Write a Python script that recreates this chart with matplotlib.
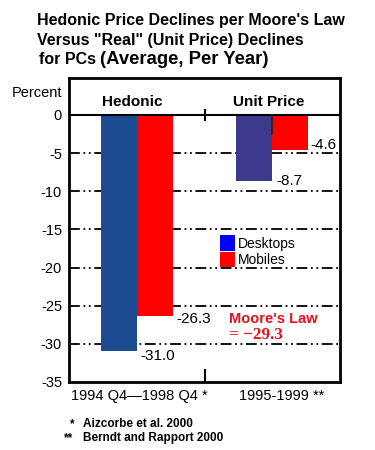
import numpy as np
import matplotlib
matplotlib.use("Agg")
import matplotlib.pyplot as plt

plt.rcParams['font.family'] = ['Liberation Sans', 'DejaVu Sans']

# data
groups = ["Hedonic", "Unit Price"]
periods = ["1994 Q4\u20141998 Q4 *", "1995-1999 **"]
desktops = [-31.0, -8.7]
mobiles = [-26.3, -4.6]
desktop_colors = ["#1c4b92", "#3b3a8c"]
mobile_color = "#ff0000"
yticks = [0, -5, -10, -15, -20, -25, -30, -35]

fig = plt.figure(figsize=(3.75, 4.5), dpi=100)
W, H = 375, 450
ax = fig.add_axes([69 / W, 1 - 382 / H, 271 / W, 304 / H])

x = np.arange(len(groups))
bw = 0.265
ax.bar(x - bw / 2, desktops, bw, color=desktop_colors, zorder=3)
ax.bar(x + bw / 2, mobiles, bw, color=mobile_color, zorder=3)

ax.set_xlim(-0.5, 1.5)
ax.set_ylim(-35, 4.85)
ax.set_yticks(yticks)
ax.set_yticklabels([str(v) for v in yticks], fontsize=10.5)
ax.tick_params(axis="y", length=0, pad=5)
ax.set_xticks([])

# grid lines
for v in yticks[1:-1]:
    ax.axhline(v, color="black", lw=1.3, ls=(0, (6, 2, 1, 2, 1, 2)), zorder=1)
ax.axhline(0, color="black", lw=1.5, zorder=4)

for s in ax.spines.values():
    s.set_linewidth(2)

# divider ticks
ax.plot([0.5, 0.5], [0.7, -0.7], color="black", lw=1.5, zorder=4)
ax.plot([0.5, 0.5], [-35, -33.4], color="black", lw=1.5, zorder=4)
ax.plot([1.0, 1.0], [0, -2.5], color="#222222", lw=1.2, zorder=4)

# group headers
ax.text(-0.035, 1.75, groups[0], ha="center", va="center", fontsize=11, fontweight="bold")
ax.text(0.975, 1.75, groups[1], ha="center", va="center", fontsize=11, fontweight="bold")

# value labels
ax.text(1 + bw + 0.02, -3.9, "-4.6", ha="left", va="center", fontsize=11)
ax.text(1 + 0.03, -8.7, "-8.7", ha="left", va="center", fontsize=11)
ax.text(bw + 0.03, -26.7, "-26.3", ha="left", va="center", fontsize=11)
ax.text(0.03, -31.6, "-31.0", ha="left", va="center", fontsize=11)

ax.text(0.68, -26.7, "Moore's Law", color="#e8101a", fontsize=10.5,
        fontweight="bold", ha="left", va="center")
ax.text(0.68, -28.8, "= \u221229.3", color="#e8101a", fontsize=12.3,
        fontweight="bold", family="Liberation Serif", ha="left", va="center")

# legend
ax.bar([0], [0], color="#0000ff", label="Desktops")
ax.bar([0], [0], color=mobile_color, label="Mobiles")
leg = ax.legend(loc="upper left", bbox_to_anchor=(0.53, 0.505), frameon=False,
                fontsize=10, handlelength=1.1, handleheight=1.3,
                handletextpad=0.2, labelspacing=0.1, borderpad=0)

# x labels below
ax.text(0.02, -36.8, periods[0], ha="center", va="center", fontsize=10.5)
ax.text(1.07, -36.8, periods[1], ha="center", va="center", fontsize=10.5)

fig.text(12 / W, 1 - 93 / H, "Percent", fontsize=10.5, va="center")

# title
fig.text(37 / W, 1 - 20 / H, "Hedonic Price Declines per Moore's Law",
         fontsize=11.5, fontweight="bold", va="center", ha="left")
fig.text(37 / W, 1 - 40 / H, "Versus \"Real\" (Unit Price) Declines",
         fontsize=11.5, fontweight="bold", va="center", ha="left")
fig.text(39 / W, 1 - 59 / H, "for PCs", fontsize=11.5, fontweight="bold",
         va="center", ha="left")
fig.text(100 / W, 1 - 59 / H, "(Average, Per Year)", fontsize=13.3,
         fontweight="bold", va="center", ha="left")

# sources
fig.text(70 / W, 1 - 424 / H, "*", fontsize=8.5, fontweight="bold", va="center")
fig.text(83 / W, 1 - 424 / H, "Aizcorbe et al. 2000", fontsize=8.5, fontweight="bold", va="center")
fig.text(64 / W, 1 - 438 / H, "**", fontsize=8.5, fontweight="bold", va="center")
fig.text(83 / W, 1 - 438 / H, "Berndt and Rapport 2000", fontsize=8.5, fontweight="bold", va="center")

fig.savefig("out.png", dpi=100)
